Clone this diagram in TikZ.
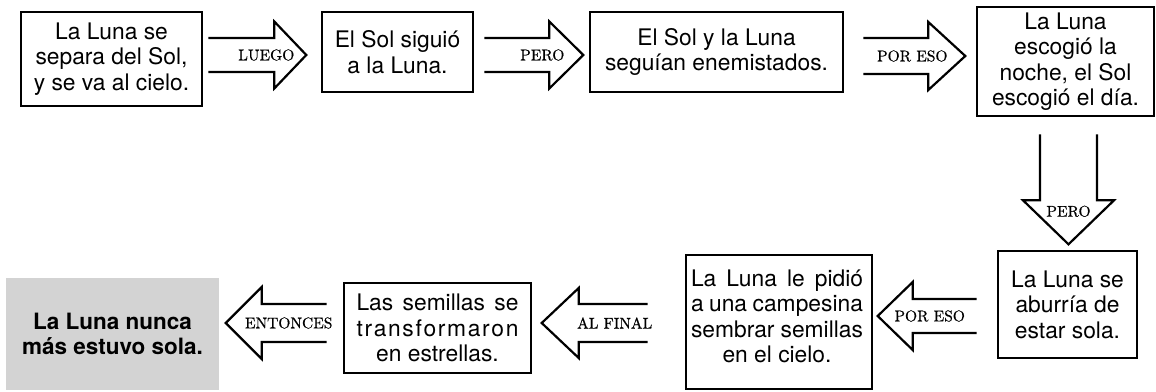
\documentclass[tikz,border=0pt]{standalone}
\usepackage{fontspec}
\newfontfamily\helv{TeX Gyre Heros}
\newfontfamily\lblf{lmroman10-regular.otf}[FakeBold=0.6]
\usetikzlibrary{calc}
\definecolor{greyfill}{RGB}{211,211,211}
\tikzset{
  box/.style={draw, line width=2.6pt, align=center, inner sep=0pt,
    font=\helv\fontsize{22.8}{25.5}\selectfont},
  txt/.style={align=center, inner sep=0pt, font=\helv\fontsize{22.8}{25.5}\selectfont},
  endbox/.style={fill=greyfill, align=center, inner sep=0pt,
    font=\helv\bfseries\fontsize{22.5}{25.5}\selectfont},
  arr/.style={line width=2.2pt, line join=miter},
  lbl/.style={font=\lblf\fontsize{15.5}{15.5}\selectfont, inner sep=0pt}
}
% #1 start coordinate, #2 angle, #3 length, #4 shaft half, #5 head half, #6 head length, #7 label offset, #8 label
\newcommand\fatarr[8]{%
  \begin{scope}[shift={(#1)}, rotate=#2]
    \draw[arr] (0,-#4) -- ({#3-#6},-#4) -- ({#3-#6},-#5) -- (#3,0)
      -- ({#3-#6},#5) -- ({#3-#6},#4) -- (0,#4);
    \node[lbl] at (#7,0) {#8};
  \end{scope}}
\begin{document}
\begin{tikzpicture}[x=1pt,y=-1pt]
\useasboundingbox (0,0) rectangle (1156,391);
% boxes
\node[box, minimum width=181, minimum height=94] (b1) at (111.5,59)
  {La Luna se\\separa del Sol,\\y se va al cielo.};
\node[box, minimum width=151, minimum height=80] (b2) at (397.5,52)
  {El Sol siguió\\a la Luna.};
\node[box, minimum width=253, minimum height=80] (b3) at (716.5,52)
  {El Sol y la Luna\\seguían enemistados.};
\node[box, minimum width=177, minimum height=109] (b4) at (1065.5,61.5)
  {La Luna\\escogió la\\noche, el Sol\\escogió el día.};
\node[box, minimum width=139, minimum height=107] (b5) at (1067.5,304.5)
  {La Luna se\\aburría de\\estar sola.};
\node[box, minimum width=186, minimum height=134] (b6) at (779,322) {};
\node[txt] (t6) at (777,316.5)
  {\makebox[172pt][s]{La Luna le pidió}\\
   \makebox[172pt][s]{a una campesina}\\
   \makebox[172pt][s]{sembrar semillas}\\
   en el cielo.};
\node[box, minimum width=187, minimum height=90] (b7) at (437.5,328)
  {\makebox[162pt][s]{Las semillas se}\\
   \makebox[162pt][s]{t\hfill r\hfill a\hfill n\hfill s\hfill f\hfill o\hfill r\hfill m\hfill a\hfill r\hfill o\hfill n}\\
   en estrellas.};
\node[endbox, minimum width=213, minimum height=112] (b8) at (112.5,334)
  {La Luna nunca\\más estuvo sola.};
% arrow start coordinates
\coordinate (s1) at ($(b1.east)+(5,-4)$);
\coordinate (s2) at ($(b2.east)+(10,3)$);
\coordinate (s3) at ($(b3.east)+(19,4)$);
\coordinate (s4) at ($(b4.south)+(3,17)$);
\coordinate (s5) at ($(b5.west)+(-20,11.5)$);
\coordinate (s6) at ($(b6.west)+(-37,1)$);
\coordinate (s7) at ($(b7.west)+(-16,-5)$);
% block arrows
\fatarr{s1}{0}{98}{17}{33.5}{32}{58}{LUEGO}
\fatarr{s2}{0}{99}{17}{33.5}{34}{58}{PERO}
\fatarr{s3}{0}{102}{18}{34}{37}{49}{POR ESO}
\fatarr{s4}{-90}{110}{28.5}{45.5}{44}{77}{PERO}
\fatarr{s5}{180}{99}{17}{34}{35}{47}{POR ESO}
\fatarr{s6}{180}{106}{19}{35}{37}{33}{AL FINAL}
\fatarr{s7}{180}{101}{19}{36}{36}{38}{ENTONCES}
\end{tikzpicture}
\end{document}
